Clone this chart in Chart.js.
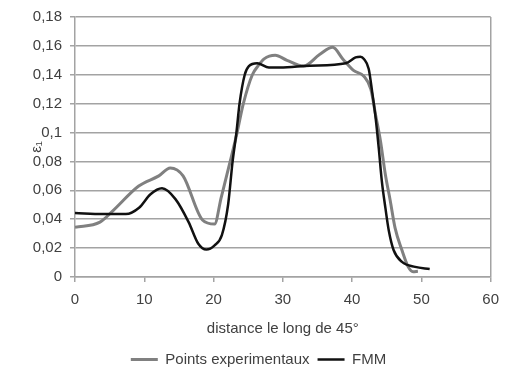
<!DOCTYPE html>
<html>
<head>
<meta charset="utf-8">
<script src="https://cdn.jsdelivr.net/npm/chart.js@4/dist/chart.umd.min.js"></script>
<style>
  body { margin: 0; background: #fff; }
</style>
</head>
<body>
<canvas id="chart" width="508" height="371"></canvas>
<script>
// Values
const expX = [0, 3.6, 5.5, 9.2, 12.1, 13.75, 15.6, 18.4, 20.15, 21.1, 22.4, 23.4, 24.3, 25.6, 26.4, 27.3, 28.9, 30.6, 33, 35.3, 37.2, 38.65, 40.2, 41.7, 42.7, 43.4, 44.1, 44.8, 45.5, 46.2, 47.2, 48.1, 48.8, 49.5];
const expY = [0.0344, 0.038, 0.046, 0.063, 0.070, 0.0755, 0.070, 0.0395, 0.0367, 0.055, 0.080, 0.100, 0.120, 0.140, 0.146, 0.151, 0.1535, 0.150, 0.146, 0.154, 0.159, 0.151, 0.143, 0.139, 0.130, 0.112, 0.094, 0.071, 0.053, 0.034, 0.0185, 0.007, 0.0036, 0.004];

const fmmX = [0, 4, 7.35, 9.25, 10.9, 12.56, 14.5, 16.4, 17.8, 18.96, 20.15, 21.2, 22.1, 22.75, 23.3, 23.75, 24.5, 25.1, 26.3, 28, 29.6, 33.9, 39.1, 40.5, 41.2, 41.7, 42.4, 42.9, 43.4, 43.85, 44.3, 44.8, 45.3, 46.0, 47.2, 49.1, 51.2];
const fmmY = [0.0443, 0.0436, 0.0436, 0.048, 0.0573, 0.0614, 0.0539, 0.038, 0.023, 0.019, 0.0219, 0.029, 0.050, 0.080, 0.100, 0.120, 0.140, 0.146, 0.148, 0.145, 0.145, 0.1463, 0.148, 0.152, 0.1525, 0.151, 0.144, 0.128, 0.110, 0.089, 0.066, 0.048, 0.032, 0.0185, 0.0105, 0.007, 0.0055];

const seriesNames = ['Points experimentaux', 'FMM'];
const xTitle = 'distance le long de 45°';
const yTitle = 'ε₁';

const toPoints = (xs, ys) => xs.map((x, i) => ({ x: x, y: ys[i] }));

const gridColor = '#a3a3a3';
const textColor = '#404040';
const font = { family: 'Liberation Sans, Arial, sans-serif', size: 15 };

// nudge the legend to where the reference has it
const legendShift = {
  id: 'legendShift',
  afterLayout(chart) {
    const lg = chart.legend;
    lg.top += 6; lg.bottom += 6;
    lg.left += 10; lg.right += 10;
  }
};

new Chart(document.getElementById('chart'), {
  type: 'scatter',
  data: {
    datasets: [{
      label: seriesNames[0],
      data: toPoints(expX, expY),
      showLine: true,
      borderColor: '#808080',
      backgroundColor: '#808080',
      borderWidth: 3,
      pointRadius: 0,
      cubicInterpolationMode: 'monotone',
      order: 1
    }, {
      label: seriesNames[1],
      data: toPoints(fmmX, fmmY),
      showLine: true,
      borderColor: '#111',
      backgroundColor: '#111',
      borderWidth: 2.5,
      pointRadius: 0,
      cubicInterpolationMode: 'monotone',
      order: 0
    }]
  },
  options: {
    responsive: false,
    animation: false,
    layout: { padding: { top: 14, right: 11, left: 0, bottom: 0 } },
    plugins: {
      tooltip: { enabled: false },
      legend: {
        position: 'bottom',
        labels: {
          usePointStyle: true,
          pointStyle: 'line',
          pointStyleWidth: 27,
          padding: 8,
          color: textColor,
          font: font,
          sort: (a, b) => a.datasetIndex - b.datasetIndex
        }
      }
    },
    scales: {
      x: {
        type: 'linear',
        min: 0,
        max: 60,
        afterFit: s => { s.height = 61; },
        ticks: { stepSize: 10, padding: 9, color: textColor, font: font },
        grid: {
          color: c => (c.tick && (c.tick.value === 60)) ? gridColor : 'transparent',
          tickColor: gridColor,
          tickLength: 5,
          lineWidth: 1.5
        },
        border: { color: gridColor, width: 1.5 },
        title: { display: true, text: xTitle, color: textColor, font: font, padding: { top: 0, bottom: 0 } }
      },
      y: {
        min: 0,
        max: 0.18,
        afterFit: s => { s.width = 75; },
        ticks: {
          stepSize: 0.02,
          padding: 8,
          color: textColor,
          font: font,
          callback: v => String(+v.toFixed(2)).replace('.', ',')
        },
        grid: { color: gridColor, tickColor: gridColor, tickLength: 5, lineWidth: 1.5 },
        border: { color: gridColor, width: 1.5 },
        title: { display: true, text: yTitle, color: textColor, font: font, padding: { top: 28, bottom: 0 } }
      }
    }
  },
  plugins: [legendShift]
});
</script>
</body>
</html>
